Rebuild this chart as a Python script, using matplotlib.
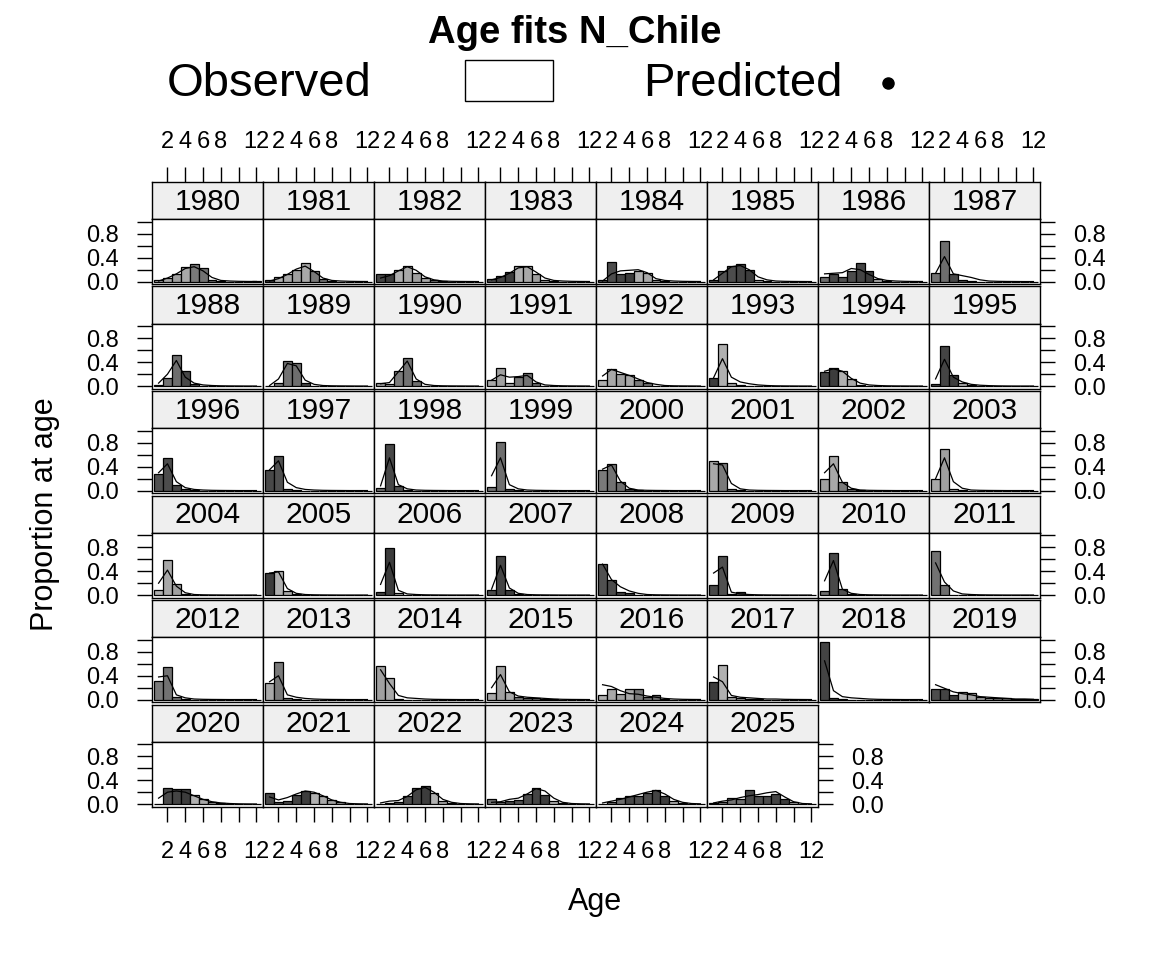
"""
Age fits N_Chile: observed (bars, shaded by cohort) vs predicted (line) proportion at age.
"""

import matplotlib
matplotlib.use('Agg')
import matplotlib.pyplot as plt
from matplotlib.patches import Rectangle
from matplotlib.lines import Line2D

plt.rcParams['font.family'] = ['Liberation Sans', 'DejaVu Sans']

YEARS = list(range(1980, 2026))
AGES = list(range(1, 13))

# observed proportion at age, one row per year (ages 1..12)
OBS = [
    [0.02, 0.06, 0.12, 0.24, 0.30, 0.22, 0.03, 0.01, 0.0, 0.0, 0.0, 0.01],   # 1980
    [0.02, 0.07, 0.12, 0.20, 0.32, 0.17, 0.04, 0.01, 0.0, 0.0, 0.0, 0.0],    # 1981
    [0.12, 0.13, 0.20, 0.26, 0.14, 0.06, 0.02, 0.01, 0.0, 0.0, 0.0, 0.0],    # 1982
    [0.04, 0.10, 0.16, 0.26, 0.27, 0.13, 0.03, 0.01, 0.0, 0.0, 0.0, 0.0],    # 1983
    [0.02, 0.33, 0.13, 0.15, 0.17, 0.15, 0.03, 0.01, 0.0, 0.0, 0.0, 0.0],    # 1984
    [0.02, 0.17, 0.27, 0.30, 0.19, 0.03, 0.01, 0.0, 0.0, 0.0, 0.0, 0.0],     # 1985
    [0.08, 0.12, 0.08, 0.18, 0.32, 0.18, 0.04, 0.01, 0.0, 0.0, 0.0, 0.0],    # 1986
    [0.15, 0.68, 0.12, 0.02, 0.01, 0.0, 0.0, 0.0, 0.0, 0.0, 0.0, 0.0],       # 1987
    [0.02, 0.14, 0.53, 0.26, 0.03, 0.01, 0.0, 0.0, 0.0, 0.0, 0.0, 0.0],      # 1988
    [0.01, 0.06, 0.42, 0.38, 0.06, 0.01, 0.0, 0.0, 0.0, 0.0, 0.0, 0.0],      # 1989
    [0.06, 0.03, 0.26, 0.47, 0.09, 0.01, 0.0, 0.0, 0.0, 0.0, 0.0, 0.0],      # 1990
    [0.10, 0.31, 0.06, 0.16, 0.22, 0.05, 0.01, 0.0, 0.0, 0.0, 0.0, 0.0],     # 1991
    [0.10, 0.29, 0.20, 0.19, 0.11, 0.05, 0.01, 0.0, 0.0, 0.0, 0.0, 0.0],     # 1992
    [0.14, 0.71, 0.05, 0.02, 0.01, 0.0, 0.0, 0.0, 0.0, 0.0, 0.0, 0.0],       # 1993
    [0.23, 0.31, 0.25, 0.12, 0.02, 0.01, 0.0, 0.0, 0.0, 0.0, 0.0, 0.0],      # 1994
    [0.03, 0.67, 0.18, 0.06, 0.02, 0.01, 0.0, 0.0, 0.0, 0.0, 0.0, 0.0],      # 1995
    [0.28, 0.55, 0.09, 0.02, 0.01, 0.0, 0.0, 0.0, 0.0, 0.0, 0.0, 0.0],       # 1996
    [0.34, 0.58, 0.03, 0.01, 0.0, 0.0, 0.0, 0.0, 0.0, 0.0, 0.0, 0.0],        # 1997
    [0.05, 0.78, 0.08, 0.01, 0.0, 0.0, 0.0, 0.0, 0.0, 0.0, 0.0, 0.0],        # 1998
    [0.06, 0.81, 0.03, 0.01, 0.0, 0.0, 0.0, 0.0, 0.0, 0.0, 0.0, 0.0],        # 1999
    [0.34, 0.45, 0.14, 0.02, 0.01, 0.0, 0.0, 0.0, 0.0, 0.0, 0.0, 0.0],       # 2000
    [0.49, 0.47, 0.02, 0.01, 0.0, 0.0, 0.0, 0.0, 0.0, 0.0, 0.0, 0.0],        # 2001
    [0.20, 0.58, 0.15, 0.02, 0.01, 0.0, 0.0, 0.0, 0.0, 0.0, 0.0, 0.0],       # 2002
    [0.20, 0.70, 0.03, 0.01, 0.0, 0.0, 0.0, 0.0, 0.0, 0.0, 0.0, 0.0],        # 2003
    [0.09, 0.59, 0.19, 0.02, 0.01, 0.0, 0.0, 0.0, 0.0, 0.0, 0.0, 0.0],       # 2004
    [0.37, 0.41, 0.07, 0.02, 0.01, 0.0, 0.0, 0.0, 0.0, 0.0, 0.0, 0.0],       # 2005
    [0.05, 0.79, 0.04, 0.01, 0.0, 0.0, 0.0, 0.0, 0.0, 0.0, 0.0, 0.0],        # 2006
    [0.09, 0.66, 0.09, 0.02, 0.01, 0.0, 0.0, 0.0, 0.0, 0.0, 0.0, 0.0],       # 2007
    [0.53, 0.25, 0.05, 0.04, 0.01, 0.0, 0.0, 0.0, 0.0, 0.0, 0.0, 0.0],       # 2008
    [0.17, 0.65, 0.02, 0.05, 0.01, 0.0, 0.0, 0.0, 0.0, 0.0, 0.0, 0.0],       # 2009
    [0.07, 0.71, 0.10, 0.02, 0.01, 0.0, 0.0, 0.0, 0.0, 0.0, 0.0, 0.0],       # 2010
    [0.74, 0.17, 0.01, 0.0, 0.0, 0.0, 0.0, 0.0, 0.0, 0.0, 0.0, 0.0],         # 2011
    [0.32, 0.55, 0.05, 0.01, 0.0, 0.0, 0.0, 0.0, 0.0, 0.0, 0.0, 0.0],        # 2012
    [0.28, 0.63, 0.02, 0.01, 0.0, 0.0, 0.0, 0.0, 0.0, 0.0, 0.0, 0.0],        # 2013
    [0.56, 0.37, 0.01, 0.0, 0.0, 0.0, 0.0, 0.0, 0.0, 0.0, 0.0, 0.0],         # 2014
    [0.11, 0.57, 0.12, 0.05, 0.03, 0.02, 0.01, 0.01, 0.0, 0.0, 0.0, 0.0],    # 2015
    [0.07, 0.17, 0.09, 0.17, 0.17, 0.04, 0.07, 0.01, 0.0, 0.0, 0.0, 0.0],    # 2016
    [0.29, 0.58, 0.04, 0.02, 0.01, 0.01, 0.0, 0.0, 0.0, 0.0, 0.0, 0.0],      # 2017
    [0.97, 0.02, 0.01, 0.0, 0.0, 0.0, 0.0, 0.0, 0.0, 0.0, 0.0, 0.0],         # 2018
    [0.18, 0.18, 0.07, 0.12, 0.11, 0.05, 0.03, 0.03, 0.02, 0.01, 0.01, 0.01],  # 2019
    [0.01, 0.27, 0.26, 0.25, 0.15, 0.09, 0.04, 0.02, 0.01, 0.0, 0.0, 0.0],   # 2020
    [0.18, 0.04, 0.05, 0.15, 0.22, 0.19, 0.13, 0.07, 0.03, 0.01, 0.0, 0.0],  # 2021
    [0.01, 0.02, 0.03, 0.13, 0.27, 0.30, 0.19, 0.05, 0.02, 0.01, 0.0, 0.0],  # 2022
    [0.08, 0.03, 0.06, 0.07, 0.17, 0.27, 0.16, 0.06, 0.02, 0.01, 0.0, 0.0],  # 2023
    [0.01, 0.03, 0.10, 0.14, 0.13, 0.18, 0.23, 0.13, 0.05, 0.02, 0.01, 0.0],  # 2024
    [0.02, 0.03, 0.10, 0.09, 0.24, 0.13, 0.13, 0.17, 0.08, 0.03, 0.01, 0.0],  # 2025
]

# predicted proportion at age
PRED = [
    [0.01, 0.06, 0.13, 0.22, 0.25, 0.18, 0.07, 0.02, 0.01, 0.005, 0.003, 0.002],
    [0.01, 0.05, 0.12, 0.21, 0.26, 0.17, 0.06, 0.02, 0.01, 0.005, 0.003, 0.002],
    [0.06, 0.10, 0.18, 0.25, 0.19, 0.08, 0.03, 0.01, 0.005, 0.003, 0.002, 0.001],
    [0.03, 0.07, 0.14, 0.23, 0.25, 0.16, 0.06, 0.02, 0.01, 0.005, 0.003, 0.002],
    [0.01, 0.13, 0.18, 0.19, 0.20, 0.15, 0.05, 0.02, 0.01, 0.005, 0.003, 0.002],
    [0.03, 0.14, 0.25, 0.27, 0.20, 0.08, 0.03, 0.01, 0.005, 0.003, 0.002, 0.001],
    [0.13, 0.14, 0.15, 0.22, 0.20, 0.12, 0.05, 0.02, 0.01, 0.005, 0.003, 0.002],
    [0.14, 0.42, 0.13, 0.10, 0.07, 0.03, 0.01, 0.005, 0.003, 0.002, 0.001, 0.001],
    [0.05, 0.20, 0.43, 0.15, 0.05, 0.02, 0.01, 0.005, 0.003, 0.002, 0.001, 0.001],
    [0.01, 0.12, 0.38, 0.34, 0.10, 0.03, 0.01, 0.005, 0.003, 0.002, 0.001, 0.001],
    [0.04, 0.06, 0.24, 0.42, 0.12, 0.03, 0.01, 0.005, 0.003, 0.002, 0.001, 0.001],
    [0.10, 0.19, 0.15, 0.16, 0.18, 0.07, 0.02, 0.01, 0.005, 0.003, 0.002, 0.001],
    [0.17, 0.28, 0.23, 0.18, 0.12, 0.06, 0.03, 0.01, 0.005, 0.003, 0.002, 0.001],
    [0.14, 0.46, 0.15, 0.07, 0.04, 0.02, 0.01, 0.005, 0.003, 0.002, 0.001, 0.001],
    [0.25, 0.29, 0.25, 0.13, 0.05, 0.02, 0.01, 0.005, 0.003, 0.002, 0.001, 0.001],
    [0.12, 0.45, 0.15, 0.07, 0.03, 0.015, 0.008, 0.004, 0.002, 0.001, 0.001, 0.001],
    [0.30, 0.45, 0.15, 0.05, 0.02, 0.01, 0.005, 0.003, 0.002, 0.001, 0.001, 0.001],
    [0.35, 0.50, 0.14, 0.05, 0.02, 0.01, 0.005, 0.003, 0.002, 0.001, 0.001, 0.001],
    [0.08, 0.55, 0.10, 0.03, 0.01, 0.005, 0.003, 0.002, 0.001, 0.001, 0.001, 0.001],
    [0.25, 0.55, 0.10, 0.03, 0.01, 0.005, 0.003, 0.002, 0.001, 0.001, 0.001, 0.001],
    [0.36, 0.43, 0.16, 0.04, 0.01, 0.005, 0.003, 0.002, 0.001, 0.001, 0.001, 0.001],
    [0.45, 0.43, 0.12, 0.03, 0.01, 0.005, 0.003, 0.002, 0.001, 0.001, 0.001, 0.001],
    [0.30, 0.45, 0.14, 0.04, 0.01, 0.005, 0.003, 0.002, 0.001, 0.001, 0.001, 0.001],
    [0.20, 0.55, 0.15, 0.04, 0.01, 0.005, 0.003, 0.002, 0.001, 0.001, 0.001, 0.001],
    [0.20, 0.42, 0.15, 0.04, 0.01, 0.005, 0.003, 0.002, 0.001, 0.001, 0.001, 0.001],
    [0.37, 0.39, 0.11, 0.03, 0.01, 0.005, 0.003, 0.002, 0.001, 0.001, 0.001, 0.001],
    [0.18, 0.55, 0.08, 0.02, 0.01, 0.005, 0.003, 0.002, 0.001, 0.001, 0.001, 0.001],
    [0.10, 0.50, 0.12, 0.03, 0.01, 0.005, 0.003, 0.002, 0.001, 0.001, 0.001, 0.001],
    [0.52, 0.26, 0.14, 0.07, 0.03, 0.01, 0.005, 0.003, 0.002, 0.001, 0.001, 0.001],
    [0.37, 0.47, 0.05, 0.02, 0.01, 0.005, 0.003, 0.002, 0.001, 0.001, 0.001, 0.001],
    [0.24, 0.58, 0.10, 0.03, 0.01, 0.005, 0.003, 0.002, 0.001, 0.001, 0.001, 0.001],
    [0.54, 0.22, 0.07, 0.02, 0.01, 0.005, 0.003, 0.002, 0.001, 0.001, 0.001, 0.001],
    [0.38, 0.40, 0.08, 0.03, 0.01, 0.005, 0.003, 0.002, 0.001, 0.001, 0.001, 0.001],
    [0.30, 0.40, 0.08, 0.04, 0.02, 0.01, 0.005, 0.003, 0.002, 0.001, 0.001, 0.001],
    [0.50, 0.27, 0.07, 0.03, 0.02, 0.01, 0.005, 0.003, 0.002, 0.001, 0.001, 0.001],
    [0.20, 0.42, 0.13, 0.06, 0.04, 0.03, 0.02, 0.01, 0.005, 0.003, 0.002, 0.001],
    [0.25, 0.22, 0.15, 0.10, 0.09, 0.06, 0.04, 0.02, 0.01, 0.005, 0.003, 0.002],
    [0.38, 0.30, 0.07, 0.04, 0.03, 0.02, 0.01, 0.01, 0.005, 0.003, 0.002, 0.001],
    [0.65, 0.15, 0.05, 0.03, 0.02, 0.01, 0.005, 0.003, 0.002, 0.001, 0.001, 0.001],
    [0.25, 0.19, 0.13, 0.10, 0.08, 0.05, 0.04, 0.03, 0.02, 0.01, 0.01, 0.005],
    [0.10, 0.20, 0.22, 0.20, 0.14, 0.08, 0.04, 0.02, 0.01, 0.005, 0.003, 0.002],
    [0.12, 0.07, 0.11, 0.17, 0.22, 0.20, 0.14, 0.07, 0.03, 0.01, 0.005, 0.003],
    [0.02, 0.05, 0.06, 0.13, 0.24, 0.28, 0.20, 0.08, 0.03, 0.01, 0.005, 0.003],
    [0.03, 0.04, 0.08, 0.10, 0.17, 0.26, 0.22, 0.10, 0.03, 0.01, 0.005, 0.003],
    [0.02, 0.05, 0.08, 0.12, 0.16, 0.20, 0.23, 0.17, 0.08, 0.03, 0.01, 0.005],
    [0.02, 0.05, 0.07, 0.11, 0.14, 0.16, 0.19, 0.21, 0.12, 0.04, 0.01, 0.005],
]

# bar shade by cohort (cohort - 2000) mod 12
COHORT_SHADES = ['#a8a8a8', '#a0a0a0', '#a8a8a8', '#b0b0b0',
                 '#3c3c3c', '#444444', '#4c4c4c', '#505050', '#484848',
                 '#6e6e6e', '#727272', '#7a7a7a']

# layout in pixels
W, H = 1152, 960
X0, COL_W = 152, 111
Y0, ROW_H = 182, 104.5
STRIP_H, PANEL_H = 37, 65
NCOL = 8
XLIM = (0.26, 12.74)
YLIM = (-0.04, 1.05)
XTICKS = [2, 4, 6, 8, 10, 12]
XLABELS = ['2', '4', '6', '8', '', '12']
YTICKS = [0.0, 0.2, 0.4, 0.6, 0.8, 1.0]
YLABELS = ['0.0', '', '0.4', '', '0.8', '']
TICK_FS = 17
LW = 1.0


def box(x, y, w, h):
    return [x / W, 1 - (y + h) / H, w / W, h / H]


def style_frame(ax):
    for s in ax.spines.values():
        s.set_linewidth(LW)
    ax.tick_params(which='both', left=False, right=False, top=False, bottom=False,
                   labelbottom=False, labelleft=False, labeltop=False,
                   labelright=False, direction='out', length=11, width=LW,
                   labelsize=TICK_FS)


def main():
    fig = plt.figure(figsize=(W / 100, H / 100), dpi=100)
    n = len(YEARS)
    last_row = (n - 1) // NCOL

    for i, year in enumerate(YEARS):
        r, c = divmod(i, NCOL)
        x = X0 + c * COL_W
        y = Y0 + r * ROW_H

        # strip
        sax = fig.add_axes(box(x, y, COL_W, STRIP_H))
        sax.set_facecolor('#efefef')
        sax.set_xlim(*XLIM)
        sax.set_ylim(0, 1)
        style_frame(sax)
        sax.set_yticks([])
        sax.text(0.5, 0.47, str(year), transform=sax.transAxes,
                 ha='center', va='center', fontsize=21.5)
        if r == 0:
            sax.set_xticks(XTICKS)
            sax.set_xticklabels(XLABELS)
            sax.tick_params(axis='x', top=True, labeltop=True, pad=10)
        else:
            sax.set_xticks([])

        # panel
        ax = fig.add_axes(box(x, y + STRIP_H, COL_W, PANEL_H))
        style_frame(ax)
        ax.set_xlim(*XLIM)
        ax.set_ylim(*YLIM)
        colors = [COHORT_SHADES[(year - a - 2000) % 12] for a in AGES]
        ax.bar(AGES, OBS[i], width=1.0, color=colors, edgecolor='black',
               linewidth=0.9)
        ax.plot(AGES, PRED[i], color='black', linewidth=0.9)

        ax.set_xticks(XTICKS)
        ax.set_yticks(YTICKS)
        ax.set_xticklabels(XLABELS)
        ax.set_yticklabels(YLABELS)

        if r == last_row:
            ax.tick_params(axis='x', bottom=True, labelbottom=True, pad=14)
        if c == 0:
            ax.tick_params(axis='y', left=True, labelleft=True, pad=13)
        if c == NCOL - 1 or i == n - 1:
            ax.tick_params(axis='y', right=True, labelright=True, pad=13)

    # title and key
    fig.text(575 / W, 1 - 33 / H, 'Age fits N_Chile', ha='center', va='center',
             fontsize=27.5, fontweight='bold')
    fig.text(167 / W, 1 - 84 / H, 'Observed', ha='left', va='center', fontsize=34)
    fig.add_artist(Rectangle((465 / W, 1 - 101 / H), 88 / W, 41 / H,
                             transform=fig.transFigure, facecolor='white',
                             edgecolor='black', linewidth=LW))
    fig.text(643 / W, 1 - 84 / H, 'Predicted', ha='left', va='center', fontsize=34)
    fig.add_artist(Line2D([888 / W], [1 - 83 / H], transform=fig.transFigure,
                          marker='o', markersize=8, color='black', linestyle='none'))

    fig.text(595 / W, 1 - 902 / H, 'Age', ha='center', va='center', fontsize=22)
    fig.text(45 / W, 1 - 514 / H, 'Proportion at age', ha='center', va='center',
             rotation=90, fontsize=22)

    fig.savefig('out.png', dpi=100)
    plt.close(fig)


if __name__ == '__main__':
    main()
